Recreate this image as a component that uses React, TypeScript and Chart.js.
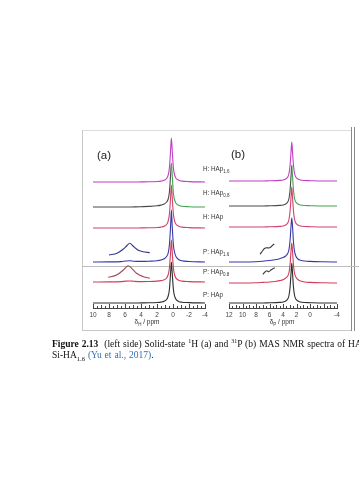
import React, { useEffect, useRef } from 'react';
import { Chart, registerables } from 'chart.js';
Chart.register(...registerables);

// ---------- Panel (a): 1H spectra ----------
const ppmA = [10, 8, 6.5, 5.9, 5.4, 4.9, 4, 3, 2, 1.5, 1.1, 0.8, 0.6, 0.45, 0.3, 0.2, 0.1, -0.05, -0.2, -0.4, -0.7, -1.1, -2, -4];
const aHAp16 = [126, 126, 126, 126, 126, 126, 126.1, 126.2, 126.5, 126.9, 127.7, 129.5, 133, 140, 158, 170, 158, 140, 133, 129.5, 127.7, 126.9, 126.4, 126];
const aHAp08 = [101, 101, 101, 101, 101, 101.1, 101.3, 101.6, 102.2, 102.9, 104, 106, 109, 116, 133, 145, 133, 115, 108, 104.5, 102.7, 101.8, 101.3, 101];
const aHAp = [80, 80, 80, 80, 80, 80, 80.1, 80.2, 80.5, 80.9, 81.7, 83.5, 87, 94, 111, 123, 111, 94, 87, 83.5, 81.7, 80.9, 80.4, 80];
const aPHAp16 = [46, 46.1, 46.4, 47, 47.3, 46.8, 46.6, 46.8, 47.3, 48, 49.2, 51.5, 55, 63, 82, 98, 82, 63, 55.5, 51, 48.5, 47.2, 46.5, 46];
const aPHAp08 = [26, 26.1, 26.4, 26.9, 27, 26.7, 26.4, 26.5, 26.9, 27.4, 28.3, 30, 33.5, 40, 56, 68, 56, 40, 33, 29.6, 27.8, 26.9, 26.4, 26];
const aPHAp = [5, 5, 5, 5, 5, 5, 5.1, 5.2, 5.5, 5.9, 6.7, 8.5, 12, 18.5, 35, 46, 35, 18.5, 11.8, 8.4, 6.6, 5.8, 5.4, 5];
const insetBlueAppm = [8.0, 7.0, 6.2, 5.8, 5.4, 5.0, 4.4, 3.75, 2.9];
const insetBlueAval = [53, 54.7, 59, 62, 64.7, 62, 58, 56.3, 55.3];
const insetRedAppm = [8.1, 7.05, 6.2, 5.8, 5.6, 5.16, 4.55, 3.7, 2.9];
const insetRedAval = [30.7, 33, 38, 41.3, 42.3, 39.7, 34.7, 31.3, 29.7];
const peakA = 0.2;

// ---------- Panel (b): 31P spectra ----------
const ppmB = [12, 10, 8, 7, 6, 5, 4.5, 4, 3.6, 3.3, 3.1, 2.95, 2.8, 2.7, 2.6, 2.45, 2.3, 2.1, 1.8, 1.4, 0.8, 0, -2, -4];
const bHAp16 = [127, 127, 127, 127, 127.2, 127.4, 127.6, 128, 129, 131, 135, 143, 157, 166, 157, 143, 135, 131, 129, 128, 127.5, 127.3, 127, 127];
const bHAp08 = [102, 102, 102, 102, 102.2, 102.4, 102.6, 103, 104, 106, 110, 118, 133, 143, 133, 118, 110, 106, 104, 103, 102.5, 102.3, 102, 102];
const bHAp = [81, 81, 81, 81, 81.2, 81.4, 81.6, 82, 83, 85, 89, 97, 112, 121, 112, 97, 89, 85, 83, 82, 81.5, 81.3, 81, 81];
const bPHAp16 = [46, 46, 46.3, 46.8, 47.5, 48.5, 49.3, 50.5, 52, 54.5, 59, 68, 83, 90, 83, 66, 57, 52, 49, 47.8, 47, 46.6, 46.2, 46];
const bPHAp08 = [25, 25, 25.2, 25.6, 26, 26.8, 27.4, 28.3, 30, 32, 36, 44, 58, 65, 58, 43, 35, 31, 28.5, 27, 26, 25.6, 25.2, 25];
const bPHAp = [5, 5, 5, 5, 5.2, 5.4, 5.6, 6, 7, 9, 13, 21, 36, 45, 36, 21, 13, 9, 7, 6, 5.5, 5.3, 5, 5];
const insetBlueBppm = [7.4, 7.05, 6.75, 6.4, 6.1, 5.8, 5.5, 5.3];
const insetBlueBval = [53.7, 57, 59.5, 60.2, 60, 61, 63, 64];
const insetRedBppm = [7.0, 6.67, 6.4, 6.1, 5.8, 5.5, 5.2];
const insetRedBval = [33.7, 36, 37.3, 36.3, 38, 39.3, 40.3];
const peakB = 2.7;

const ticksA = [10, 8, 6, 4, 2, 0, -2, -4];
const ticksB = [12, 10, 8, 6, 4, 2, 0, -4];

const labels = [
  { pre: 'H: HAp', sub: '1.6', top: 165 },
  { pre: 'H: HAp', sub: '0.8', top: 189 },
  { pre: 'H: HAp', sub: '', top: 213 },
  { pre: 'P: HAp', sub: '1.6', top: 248 },
  { pre: 'P: HAp', sub: '0.8', top: 268 },
  { pre: 'P: HAp', sub: '', top: 291 },
];

const MAGENTA = '#c23fc6';
const GRAY = '#4a4a4a';
const GREEN = '#43a44f';
const PINK = '#d2426e';
const BLUE = '#3838a8';
const RED = '#d23c5a';
const BLACK = '#2e2e2e';

const pts = (xs: number[], ys: number[]) => xs.map((x, i) => ({ x, y: ys[i] }));

const innerTicks = {
  id: 'innerTicks',
  afterDraw(chart: any) {
    const s = chart.scales.x;
    const ctx = chart.ctx;
    const b = chart.chartArea.bottom;
    ctx.save();
    ctx.strokeStyle = '#444';
    ctx.lineWidth = 1;
    const n = Math.round((s.max - s.min) * 2);
    for (let i = 0; i <= n; i++) {
      const v = s.min + i * 0.5;
      const x = Math.round(s.getPixelForValue(v)) + 0.5;
      const len = Math.abs(v % 2) < 1e-9 ? 4 : Math.abs(v % 1) < 1e-9 ? 3 : 2;
      ctx.beginPath();
      ctx.moveTo(x, b);
      ctx.lineTo(x, b - len);
      ctx.stroke();
    }
    ctx.restore();
  },
};

function lineDs(data: any[], color: string, extra: any = {}) {
  return {
    data,
    borderColor: color,
    borderWidth: 1.1,
    pointRadius: 0,
    fill: false,
    cubicInterpolationMode: 'monotone',
    ...extra,
  };
}

function makeConfig(kind: 'a' | 'b') {
  const isA = kind === 'a';
  const ppm = isA ? ppmA : ppmB;
  const peak = isA ? peakA : peakB;
  const t = isA
    ? [aHAp16, aHAp08, aHAp, aPHAp16, aPHAp08, aPHAp]
    : [bHAp16, bHAp08, bHAp, bPHAp16, bPHAp08, bPHAp];
  const tickVals = isA ? ticksA : ticksB;
  const datasets: any[] = [
    lineDs(pts(ppm, t[0]), MAGENTA),
    lineDs(pts(ppm, t[1]), GREEN, {
      segment: { borderColor: (c: any) => (c.p1.parsed.x >= peak ? GRAY : GREEN) },
    }),
    lineDs(pts(ppm, t[2]), PINK),
    lineDs(pts(ppm, t[3]), BLUE),
    lineDs(pts(ppm, t[4]), RED),
    lineDs(pts(ppm, t[5]), BLACK),
    lineDs(pts(isA ? insetBlueAppm : insetBlueBppm, isA ? insetBlueAval : insetBlueBval), isA ? '#34348e' : '#333'),
    lineDs(pts(isA ? insetRedAppm : insetRedBppm, isA ? insetRedAval : insetRedBval), isA ? '#a3454f' : '#3a3a3a'),
  ];
  return {
    type: 'line',
    data: { datasets },
    plugins: [innerTicks],
    options: {
      animation: false,
      responsive: false,
      maintainAspectRatio: false,
      layout: { padding: { left: 13, right: isA ? 15 : 13, top: 0, bottom: 1 } },
      plugins: { legend: { display: false }, tooltip: { enabled: false } },
      scales: {
        x: {
          type: 'linear',
          reverse: true,
          min: -4,
          max: isA ? 10 : 12,
          afterFit: (scale: any) => {
            scale.height = 12;
          },
          afterBuildTicks: (scale: any) => {
            scale.ticks = tickVals.map((v) => ({ value: v }));
          },
          grid: { display: true, drawOnChartArea: false, drawTicks: false },
          border: { display: true, color: '#444', width: 1 },
          ticks: {
            padding: 3,
            color: '#444',
            font: { family: 'Liberation Sans, Arial', size: 6.5 },
            maxRotation: 0,
            autoSkip: false,
            callback: (v: any) => String(v),
          },
        },
        y: { display: false, min: 0, max: 177 },
      },
    },
  };
}

function Panel({ kind, left, width }: { kind: 'a' | 'b'; left: number; width: number }) {
  const ref = useRef<HTMLCanvasElement>(null);
  useEffect(() => {
    const chart = new Chart(ref.current as HTMLCanvasElement, makeConfig(kind) as any);
    return () => chart.destroy();
  }, [kind]);
  return (
    <canvas
      ref={ref}
      width={width}
      height={190}
      style={{ position: 'absolute', left, top: 131, width, height: 190 }}
    />
  );
}

const sans = 'Liberation Sans, Arial, sans-serif';

export default function App() {
  return (
    <div style={{ position: 'absolute', left: 0, top: 0, width: 359, height: 480, overflow: 'hidden', background: '#fff' }}>
      {/* frame */}
      <div style={{ position: 'absolute', left: 82, top: 130, width: 269, height: 199, borderLeft: '1px solid #c8c8c8', borderTop: '1px solid #dcdcdc', borderBottom: '1px solid #c8c8c8' }} />
      <div style={{ position: 'absolute', left: 351, top: 127, width: 1, height: 204, background: '#8a8a8a' }} />
      <div style={{ position: 'absolute', left: 354, top: 127, width: 1, height: 204, background: '#8a8a8a' }} />
      <div style={{ position: 'absolute', left: 82, top: 266, width: 277, height: 1, background: '#bdbdbd' }} />

      <Panel kind="a" left={80} width={140} />
      <Panel kind="b" left={216} width={134} />

      <div style={{ position: 'absolute', left: 97, top: 149, fontFamily: sans, fontSize: 11.5, color: '#222' }}>(a)</div>
      <div style={{ position: 'absolute', left: 231, top: 148, fontFamily: sans, fontSize: 11.5, color: '#222' }}>(b)</div>

      {labels.map((l, i) => (
        <div key={i} style={{ position: 'absolute', left: 203, top: l.top, fontFamily: sans, fontSize: 6.3, color: '#333', whiteSpace: 'nowrap' }}>
          {l.pre}
          {l.sub ? <sub style={{ fontSize: 4.5 }}>{l.sub}</sub> : null}
        </div>
      ))}

      <div style={{ position: 'absolute', left: 127, top: 318, width: 40, textAlign: 'center', fontFamily: sans, fontSize: 6.5, color: '#333', whiteSpace: 'nowrap' }}>
        δ<sub style={{ fontSize: 4.5 }}>H</sub> / ppm
      </div>
      <div style={{ position: 'absolute', left: 262, top: 318, width: 40, textAlign: 'center', fontFamily: sans, fontSize: 6.5, color: '#333', whiteSpace: 'nowrap' }}>
        δ<sub style={{ fontSize: 4.5 }}>P</sub> / ppm
      </div>

      <div style={{ position: 'absolute', left: 52, top: 339, width: 307, overflow: 'hidden', fontFamily: 'Liberation Serif, Times New Roman, serif', fontSize: 9.5, lineHeight: '11px', color: '#111', whiteSpace: 'nowrap', wordSpacing: '0.6px' }}>
        <div>
          <b>Figure 2.13</b>{'\u00a0 '}(left side) Solid-state <sup style={{ fontSize: 6, lineHeight: 0 }}>1</sup>H (a) and <sup style={{ fontSize: 6, lineHeight: 0 }}>31</sup>P (b) MAS NMR spectra of HAp
        </div>
        <div>
          Si-HA<sub style={{ fontSize: 6.5, lineHeight: 0 }}>1.6</sub> <span style={{ color: '#2f6fb5' }}>(Yu et al., 2017)</span>.
        </div>
      </div>
    </div>
  );
}
